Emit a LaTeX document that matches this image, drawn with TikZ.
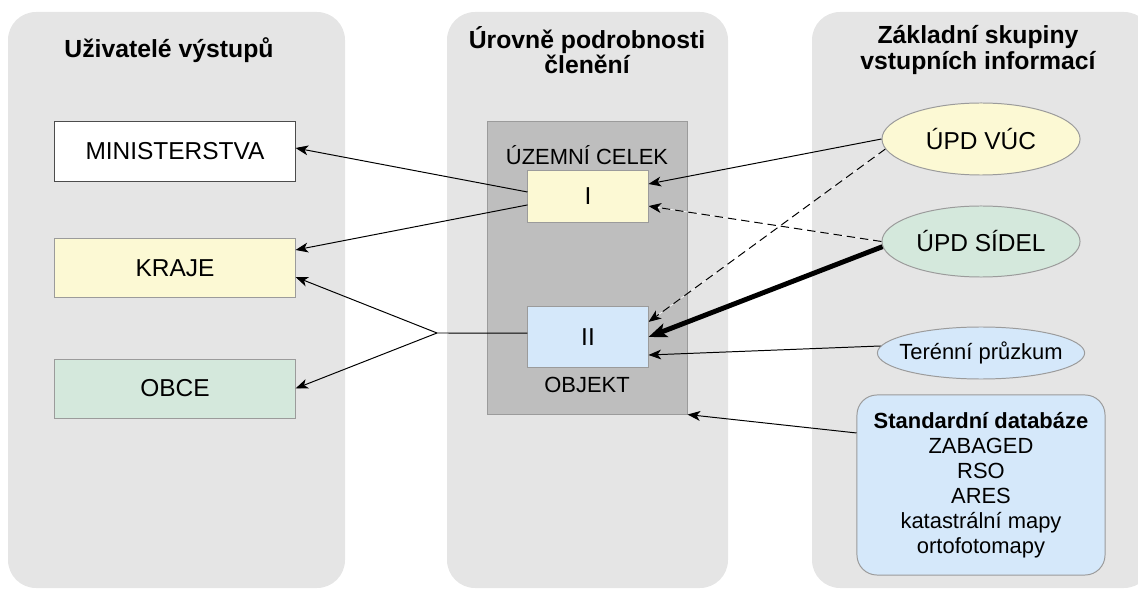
\documentclass[tikz,border=0pt]{standalone}
\usepackage{fontspec}
\setmainfont{Liberation Sans}
\usetikzlibrary{arrows.meta}
\usetikzlibrary{shapes.geometric}
\usepackage{xcolor}

\definecolor{panelgray}{RGB}{229,229,229}
\definecolor{levelgray}{RGB}{190,190,190}
\definecolor{edgegray}{RGB}{155,155,155}
\definecolor{boxyellow}{RGB}{252,249,212}
\definecolor{boxgreen}{RGB}{212,232,220}
\definecolor{boxblue}{RGB}{213,232,250}

\newcommand{\headfont}{\fontsize{17.6}{17.8}\selectfont\bfseries}
\newcommand{\labelfont}{\fontsize{17.4}{20}\selectfont}
\newcommand{\smallfont}{\fontsize{15.6}{17.8}\selectfont}

\begin{document}
\begin{tikzpicture}[x=0.025cm, y=-0.025cm,
    head/.style={font=\headfont, align=center, inner sep=0},
    userbox/.style={draw=edgegray, line width=0.7pt, minimum width=6cm, minimum height=1.475cm, inner sep=0, font=\labelfont},
    levelbox/.style={draw=edgegray, line width=0.7pt, minimum width=3cm, inner sep=0, font=\labelfont},
    source/.style={ellipse, draw=edgegray, line width=0.7pt, inner sep=0, font=\labelfont},
    link/.style={line width=0.7pt, -{Stealth[length=9pt, width=7pt, inset=2.5pt]}},
    dashlink/.style={link, dash pattern=on 6pt off 3.5pt, preaction={draw=white, solid, -}}
    ]

\useasboundingbox (0,0) rectangle (1138,590);

% panels
{
\fill[panelgray, rounded corners=0.7cm] (8,12) rectangle (345,588);
\fill[panelgray, rounded corners=0.7cm] (447,12) rectangle (728,588);
\fill[panelgray, rounded corners=0.7cm] (812,12) rectangle (1152,588);
}

% headers
{
\node[head] (usershead) at (169,50) {Uživatelé výstupů};
\node[head] (levelhead) at (587,50) {Úrovně podrobnosti\\členění};
\node[head] (sourcehead) at (978,50) {Základní skupiny\\vstupních informací};
}

% users
{
\node[userbox, fill=white, draw=black!70] (mini) at (175,151.5) {MINISTERSTVA};
\node[userbox, fill=boxyellow] (kraje) at (175,268) {KRAJE};
\node[userbox, fill=boxgreen] (obce) at (175,388.5) {OBCE};
}

% levels
{
\node[draw=edgegray, fill=levelgray, line width=0.7pt, minimum width=4.975cm, minimum height=7.3cm] (level) at (587.5,268) {};
\node[font=\smallfont] (celek) at (587,155) {ÚZEMNÍ CELEK};
\node[levelbox, fill=boxyellow, minimum height=1.275cm] (I) at (588,196.5) {I};
\node[levelbox, fill=boxblue, minimum height=1.5cm] (II) at (588,337) {II};
\node[font=\smallfont] (objekt) at (587,385) {OBJEKT};
\coordinate (branch) at (437,333);
}

% sources
{
\node[source, fill=boxyellow, minimum width=4.95cm, minimum height=1.8cm] (vuc) at (981,139) {ÚPD VÚC};
\node[source, fill=boxgreen, minimum width=4.95cm, minimum height=1.775cm] (sidel) at (981,241.5) {ÚPD SÍDEL};
\node[source, fill=boxblue, font=\smallfont, inner xsep=-6pt, minimum width=5.05cm, minimum height=1.3cm] (terenni) at (981,353) {Terénní průzkum};
\node[draw=edgegray, fill=boxblue, line width=0.7pt, rounded corners=0.5cm, minimum width=6.2cm, minimum height=4.5cm, align=center, font=\smallfont] (db) at (981,485)
    {\textbf{Standardní databáze}\\ZABAGED\\RSO\\ARES\\katastrální mapy\\ortofotomapy};
}

% arrows
{
\draw[link] ([yshift=3.2pt]I.west) -- ([yshift=2.5pt]mini.east);
\draw[link] ([yshift=-6pt]I.west) -- ([yshift=12.8pt]kraje.east);
\draw[line width=0.7pt] ([yshift=2.8pt]II.west) -- (branch);
\draw[link] (branch) -- ([yshift=-6.4pt]kraje.east);
\draw[link] (branch) -- (obce.east);

\draw[link] (vuc.west) -- ([yshift=8.9pt]I.east);
\draw[dashlink] (vuc.186) -- ([yshift=10.7pt]II.east);
\draw[dashlink] (sidel.west) -- ([yshift=-6.8pt]I.east);
\draw[link, line width=3.5pt, -{Stealth[length=13pt, width=10pt, inset=3pt]}] (sidel.183) -- (II.east);
\draw[link] (terenni.176) -- ([yshift=-12.8pt]II.east);
\draw[link] ([yshift=37pt]db.west) -- (level.south east);
}

\end{tikzpicture}
\end{document}
